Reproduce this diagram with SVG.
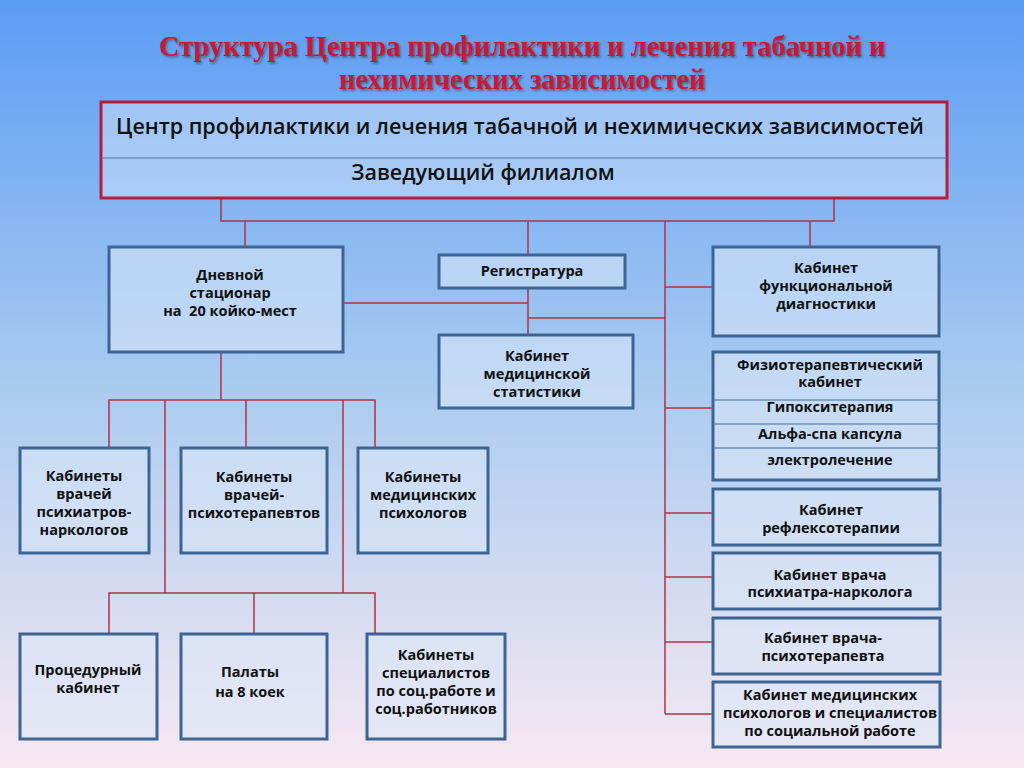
<svg xmlns="http://www.w3.org/2000/svg" width="1024" height="768" viewBox="0 0 1024 768">
<defs>
<linearGradient id="bg" x1="0" y1="0" x2="0" y2="1">
<stop offset="0" stop-color="#5b9cf4"/>
<stop offset="0.5" stop-color="#a9cbf0"/>
<stop offset="1" stop-color="#f7e8f1"/>
</linearGradient>
<filter id="sh" x="-5%" y="-20%" width="110%" height="140%">
<feDropShadow dx="1.5" dy="1.5" stdDeviation="0.8" flood-color="#3a1a20" flood-opacity="0.6"/>
</filter>
</defs>
<style>
.title{font-family:"Liberation Serif","Times New Roman",serif;font-weight:bold;font-size:28.5px;fill:#cc1530;text-anchor:middle}
.box{fill:#dbe8f8;fill-opacity:0.55;stroke:#3c6593;stroke-width:3}
.top{fill:#dbe8f8;fill-opacity:0.45;stroke:#b81c3a;stroke-width:3}
.div{stroke:#6f8fb8;stroke-width:1.5}
.t{font-family:"Open Sans","Liberation Sans",sans-serif;font-weight:bold;font-size:14.5px;fill:#111;text-anchor:middle}
.th{font-family:"Open Sans","Liberation Sans",sans-serif;font-weight:600;font-size:21.5px;fill:#111;text-anchor:middle}
.c{stroke:#b03246;stroke-width:1.5;fill:none}
</style>
<rect width="1024" height="768" fill="url(#bg)"/>
<g id="title" filter="url(#sh)">
<text class="title" x="522" y="56">Структура Центра профилактики и лечения табачной и</text>
<text class="title" x="522" y="89">нехимических зависимостей</text>
</g>
<g id="connectors">
<path class="c" d="M221 198V221H834V198"/>
<path class="c" d="M245 221V247"/>
<path class="c" d="M528 221V255"/>
<path class="c" d="M665 221V714"/>
<path class="c" d="M810 221V247"/>
<path class="c" d="M343 303H528"/>
<path class="c" d="M528 288V335"/>
<path class="c" d="M528 318H665"/>
<path class="c" d="M665 287H713"/>
<path class="c" d="M665 408H713"/>
<path class="c" d="M665 513H713"/>
<path class="c" d="M665 577H713"/>
<path class="c" d="M665 642H713"/>
<path class="c" d="M665 714H713"/>
<path class="c" d="M221 352V400"/>
<path class="c" d="M109 448V400H375V448"/>
<path class="c" d="M246 400V448"/>
<path class="c" d="M165 400V593"/>
<path class="c" d="M343 400V593"/>
<path class="c" d="M109 634V593H375V634"/>
<path class="c" d="M254 593V634"/>
</g>
<g id="center">
<rect class="top" x="101" y="102" width="846" height="96"/>
<line class="div" x1="102" y1="158" x2="946" y2="158"/>
<text class="th" x="520" y="134">Центр профилактики и лечения табачной и нехимических зависимостей</text>
<text class="th" x="483" y="180">Заведующий филиалом</text>
</g>
<g id="day">
<rect class="box" x="109" y="247" width="234" height="105"/>
<text class="t" x="230" y="280">Дневной</text>
<text class="t" x="230" y="298">стационар</text>
<text class="t" x="230" y="316" xml:space="preserve">на  20 койко-мест</text>
</g>
<g id="reg">
<rect class="box" x="439" y="255" width="186" height="33"/>
<text class="t" x="532" y="276">Регистратура</text>
</g>
<g id="stat">
<rect class="box" x="439" y="335" width="194" height="73"/>
<text class="t" x="537" y="361">Кабинет</text>
<text class="t" x="537" y="379">медицинской</text>
<text class="t" x="537" y="397">статистики</text>
</g>
<g id="func">
<rect class="box" x="713" y="247" width="226" height="89"/>
<text class="t" x="826" y="273">Кабинет</text>
<text class="t" x="826" y="291">функциональной</text>
<text class="t" x="826" y="309">диагностики</text>
</g>
<g id="physio">
<rect class="box" x="713" y="352" width="226" height="128"/>
<line class="div" x1="714" y1="400" x2="938" y2="400"/>
<line class="div" x1="714" y1="424" x2="938" y2="424"/>
<line class="div" x1="714" y1="448" x2="938" y2="448"/>
<text class="t" x="830" y="370">Физиотерапевтический</text>
<text class="t" x="830" y="387">кабинет</text>
<text class="t" x="830" y="412">Гипокситерапия</text>
<text class="t" x="830" y="439">Альфа-спа капсула</text>
<text class="t" x="830" y="465">электролечение</text>
</g>
<g id="reflex">
<rect class="box" x="713" y="489" width="227" height="56"/>
<text class="t" x="831" y="515">Кабинет</text>
<text class="t" x="831" y="533">рефлексотерапии</text>
</g>
<g id="narc">
<rect class="box" x="713" y="553" width="227" height="56"/>
<text class="t" x="830" y="580">Кабинет врача</text>
<text class="t" x="830" y="597">психиатра-нарколога</text>
</g>
<g id="psyth">
<rect class="box" x="713" y="618" width="227" height="56"/>
<text class="t" x="823" y="643">Кабинет врача-</text>
<text class="t" x="823" y="661">психотерапевта</text>
</g>
<g id="psych">
<rect class="box" x="713" y="682" width="227" height="65"/>
<text class="t" x="830" y="700">Кабинет медицинских</text>
<text class="t" x="830" y="718">психологов и специалистов</text>
<text class="t" x="830" y="736">по социальной работе</text>
</g>
<g id="l1">
<rect class="box" x="20" y="448" width="129" height="105"/>
<text class="t" x="84" y="481">Кабинеты</text>
<text class="t" x="84" y="499">врачей</text>
<text class="t" x="84" y="517">психиатров-</text>
<text class="t" x="84" y="535">наркологов</text>
</g>
<g id="l2">
<rect class="box" x="181" y="448" width="146" height="105"/>
<text class="t" x="254" y="482">Кабинеты</text>
<text class="t" x="254" y="500">врачей-</text>
<text class="t" x="254" y="518">психотерапевтов</text>
</g>
<g id="l3">
<rect class="box" x="358" y="448" width="130" height="105"/>
<text class="t" x="423" y="482">Кабинеты</text>
<text class="t" x="423" y="500">медицинских</text>
<text class="t" x="423" y="518">психологов</text>
</g>
<g id="b1">
<rect class="box" x="20" y="634" width="137" height="105"/>
<text class="t" x="88" y="675">Процедурный</text>
<text class="t" x="88" y="693">кабинет</text>
</g>
<g id="b2">
<rect class="box" x="181" y="634" width="146" height="105"/>
<text class="t" x="250" y="677">Палаты</text>
<text class="t" x="250" y="697">на 8 коек</text>
</g>
<g id="b3">
<rect class="box" x="367" y="634" width="138" height="105"/>
<text class="t" x="436" y="660">Кабинеты</text>
<text class="t" x="436" y="678">специалистов</text>
<text class="t" x="436" y="696">по соц.работе и</text>
<text class="t" x="436" y="714">соц.работников</text>
</g>
</svg>
